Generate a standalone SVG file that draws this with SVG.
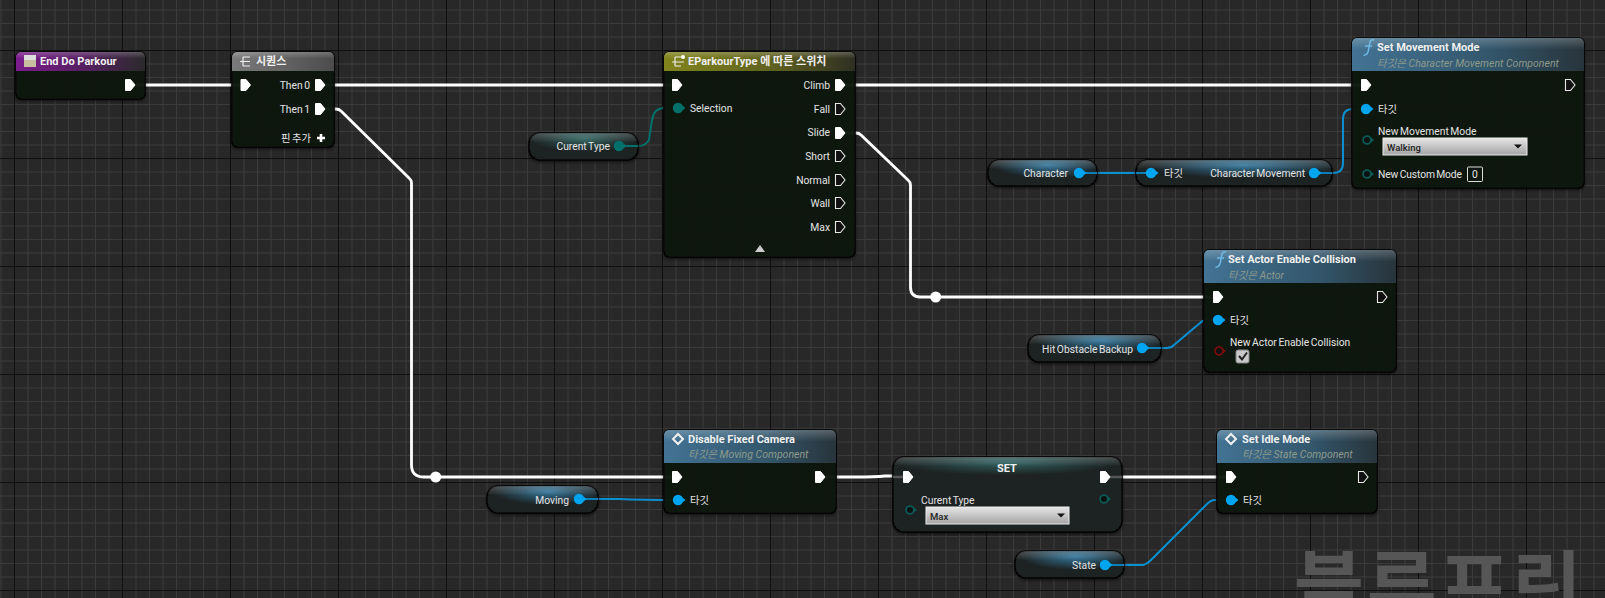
<svg xmlns="http://www.w3.org/2000/svg" width="1605" height="598" viewBox="0 0 1605 598">
<style>
text{font-family:Roboto,"Noto Sans CJK KR","Noto Sans",sans-serif;font-size:10.3px;word-spacing:-1px;fill:#e4e4e4;dominant-baseline:central}
.t{font-size:11px;font-weight:700;word-spacing:0;fill:#f0f0f0}
.s{font-size:10.5px;word-spacing:0;font-style:italic;fill:#8d9a8a}
.r{text-anchor:end}
.d{font-size:9.5px;fill:#222;font-weight:500}
.body{fill:#111311;fill-opacity:.93;stroke:#050505;stroke-width:1.5;filter:url(#sh)}
.pill{fill:#1d2121;fill-opacity:.95;stroke:#060606;stroke-width:1.5;filter:url(#sh)}
.gloss{fill:url(#gl)}
.exec{fill:none;stroke:#fff;stroke-width:2.8;stroke-linejoin:round}
.data{fill:none;stroke-width:2}
.ex{fill:#fff;stroke:#fff;stroke-width:1}
.eo{fill:#111;stroke:#e8e8e8;stroke-width:1.1}
.dd{fill:url(#dg);stroke:#eee;stroke-width:1}
.stub{stroke:#555;stroke-width:2.4}
.stb{stroke:#0a7fb8;stroke-width:2}
.wm{font-family:"Noto Sans CJK KR",sans-serif;font-size:76px;font-weight:700;word-spacing:0;fill:#565656;dominant-baseline:auto}
</style>
<defs>
<pattern id="grid" patternUnits="userSpaceOnUse" x="14" y="50" width="108" height="108">
<rect width="108" height="108" fill="#282828"/>
<path d="M14 0V108M27.5 0V108M41 0V108M54.5 0V108M68 0V108M81.5 0V108M95 0V108M0 14H108M0 27.5H108M0 41H108M0 54.5H108M0 68H108M0 81.5H108M0 95H108" stroke="#3b3b3b" fill="none"/>
<path d="M.5 0V108M0 .5H108" stroke="#0f0f0f" fill="none"/>
</pattern>
<filter id="sh" x="-10%" y="-10%" width="120%" height="125%"><feDropShadow dx="0" dy="1.5" stdDeviation="1.5" flood-color="#000" flood-opacity=".6"/></filter>
<linearGradient id="gl" x1="0" y1="0" x2="0" y2="1"><stop offset="0" stop-color="#fff" stop-opacity=".22"/><stop offset=".35" stop-color="#fff" stop-opacity="0"/></linearGradient>
<linearGradient id="hP"><stop offset="0" stop-color="#7b1c8c"/><stop offset=".55" stop-color="#54205f"/><stop offset="1" stop-color="#2b2a2c"/></linearGradient>
<linearGradient id="hG"><stop offset="0" stop-color="#7b7b7b"/><stop offset="1" stop-color="#4c4c4c"/></linearGradient>
<linearGradient id="hY"><stop offset="0" stop-color="#82841c"/><stop offset=".6" stop-color="#5d5f20"/><stop offset="1" stop-color="#2e2f22"/></linearGradient>
<linearGradient id="hB"><stop offset="0" stop-color="#437394"/><stop offset=".6" stop-color="#33566b"/><stop offset="1" stop-color="#28343b"/></linearGradient>
<linearGradient id="dg" x1="0" y1="0" x2="0" y2="1"><stop offset="0" stop-color="#e6e6e6"/><stop offset="1" stop-color="#a4a4a4"/></linearGradient>
<radialGradient id="pB" cx=".55" cy=".2" r=".5"><stop offset="0" stop-color="#3c93c4" stop-opacity=".75"/><stop offset="1" stop-color="#3c93c4" stop-opacity="0"/></radialGradient>
<radialGradient id="pT" cx=".5" cy=".2" r=".5"><stop offset="0" stop-color="#3f8f8a" stop-opacity=".6"/><stop offset="1" stop-color="#3f8f8a" stop-opacity="0"/></radialGradient>
<path id="ph" d="M-4.500-5.500H.5L5 0 .5 5.500H-4.500Z"/>
<g id="pb"><path d="M4.500 -2.500L7.500 0 4.500 2.500Z" fill="#00a5f0"/><circle r="5.200" fill="#00a5f0"/></g>
<g id="pt"><path d="M4.500 -2.500L7.500 0 4.500 2.500Z" fill="#00706a"/><circle r="5.200" fill="#00706a"/></g>
<g id="ot"><path d="M4 -2.500L7 0 4 2.500Z" fill="#0b5a55"/><circle r="3.900" fill="#0d1110" stroke="#0b5a55" stroke-width="1.800"/></g>
<g id="or"><path d="M4 -2.500L7 0 4 2.500Z" fill="#7a0c0c"/><circle r="3.900" fill="#0d1110" stroke="#7a0c0c" stroke-width="1.800"/></g>
<path id="fn" d="M8-8C4-9 3.500-4.500 3-1 2.500 3 2 7-2.500 7.500M-1-2H6" fill="none" stroke="#6fb9e6" stroke-width="1.500"/>
<path id="dm" d="M0-5L5 0 0 5-5 0Z" fill="none" stroke="#f0f0f0" stroke-width="2"/>
<path id="ar" d="M-4-2H4L0 2Z" fill="#111"/>
</defs>
<rect id="background" width="1605" height="598" fill="url(#grid)"/>
<text id="watermark" class="wm" x="1294" y="614" textLength="288">블루프린</text>

<g id="connectors">
<path class="exec" d="M127 85H245"/>
<path class="exec" d="M320 85H676"/>
<path class="exec" d="M320 109H336Q339 109 341 111L409 178Q411.500 180 411.500 183V465Q411.500 477 424 477H677"/>
<path class="exec" d="M840 85H1366"/>
<path class="exec" d="M840 133H856Q859 133 861 135L908 180Q910.500 182 910.500 185V287Q910.500 297 920 297H1218"/>
<path class="exec" d="M820 477H856Q875 477 885 476H908"/>
<path class="exec" d="M1105 477H1231"/>
<path class="data" stroke="#00706a" d="M619 146H639Q645 146 649 140L652 120Q654 108 664 108H678"/>
<path class="data" stroke="#0a8fd0" d="M1079 173H1151"/>
<path class="data" stroke="#0a8fd0" d="M1314 173H1333Q1343 173 1343 163V119Q1343 109 1353 109H1366"/>
<path class="data" stroke="#0a8fd0" d="M1142 348H1167Q1171 348 1174 345L1200 323Q1203 320 1207 320H1218"/>
<path class="data" stroke="#0a8fd0" d="M579 499H620Q640 500 678 500"/>
<path class="data" stroke="#0a8fd0" d="M1105 565H1143Q1147 564 1150 561L1207 504Q1211 500 1215 500H1231"/>
<circle cx="435.700" cy="477" r="5.500" fill="#fff"/>
<circle cx="935.700" cy="297" r="5.500" fill="#fff"/>
</g>

<g id="node-end-do-parkour">
<rect class="body" x="16" y="52" width="129" height="47" rx="5"/>
<path d="M16 71V57a5 5 0 0 1 5-5H140a5 5 0 0 1 5 5V71Z" fill="url(#hP)"/>
<path class="gloss" d="M16 71V57a5 5 0 0 1 5-5H140a5 5 0 0 1 5 5V71Z"/>
<rect x="24" y="55" width="12" height="5" fill="#ddd"/><rect x="24" y="60" width="12" height="7" fill="#c9bfa0"/>
<text class="t" x="40" y="61">End Do Parkour</text>
<use href="#ph" class="ex" x="130" y="85"/>
</g>

<g id="node-sequence">
<rect class="body" x="232" y="52" width="102" height="95" rx="5"/>
<path d="M232 71V57a5 5 0 0 1 5-5H329a5 5 0 0 1 5 5V71Z" fill="url(#hG)"/>
<path class="gloss" d="M232 71V57a5 5 0 0 1 5-5H329a5 5 0 0 1 5 5V71Z"/>
<path d="M240 61.500H250M243 57V66M243 57H250M243 66H250" stroke="#eee" stroke-width="1.200" fill="none"/>
<text class="t" x="256" y="61">시퀀스</text>
<use href="#ph" class="ex" x="245.500" y="85"/>
<text class="r" x="310" y="85">Then 0</text><use href="#ph" class="ex" x="320" y="85"/>
<text class="r" x="310" y="109">Then 1</text><use href="#ph" class="ex" x="320" y="109"/>
<text class="r" x="311" y="138">핀 추가</text>
<path d="M317 138H325M321 134V142" stroke="#fff" stroke-width="2.600"/>
</g>

<g id="node-switch">
<rect class="body" x="664" y="52" width="191" height="205" rx="5"/>
<path d="M664 71V57a5 5 0 0 1 5-5H850a5 5 0 0 1 5 5V71Z" fill="url(#hY)"/>
<path class="gloss" d="M664 71V57a5 5 0 0 1 5-5H850a5 5 0 0 1 5 5V71Z"/>
<path d="M672 62H684M675 57V66M675 57H681M675 66H681" stroke="#eee" stroke-width="1.200" fill="none"/><circle cx="683" cy="57" r="2" fill="#fff"/>
<text class="t" x="688" y="61">EParkourType 에 따른 스위치</text>
<use href="#ph" class="ex" x="677" y="85"/>
<use href="#pt" x="678" y="108"/>
<text x="690" y="108">Selection</text>
<text class="r" x="830" y="85">Climb</text><use href="#ph" class="ex" x="840" y="85"/>
<text class="r" x="830" y="109">Fall</text><use href="#ph" class="eo" x="840" y="109"/>
<text class="r" x="830" y="132">Slide</text><use href="#ph" class="ex" x="840" y="133"/>
<text class="r" x="830" y="156">Short</text><use href="#ph" class="eo" x="840" y="156"/>
<text class="r" x="830" y="180">Normal</text><use href="#ph" class="eo" x="840" y="180"/>
<text class="r" x="830" y="203">Wall</text><use href="#ph" class="eo" x="840" y="203"/>
<text class="r" x="830" y="227">Max</text><use href="#ph" class="eo" x="840" y="227"/>
<path d="M755 252L760 245 765 252Z" fill="#ccc"/>
</g>

<g id="node-curent-type">
<rect class="pill" x="529" y="133" width="109" height="27" rx="11"/>
<rect x="529" y="133" width="109" height="27" rx="11" fill="url(#pT)"/>
<rect class="gloss" x="529" y="133" width="109" height="27" rx="11"/>
<text class="r" x="610" y="146">Curent Type</text>
<line class="stb" style="stroke:#00706a" x1="619" y1="146" x2="638" y2="146"/>
<use href="#pt" x="619" y="146"/>
</g>

<g id="node-character">
<rect class="pill" x="988" y="160" width="109" height="26" rx="11"/>
<rect x="988" y="160" width="109" height="26" rx="11" fill="url(#pB)"/>
<rect class="gloss" x="988" y="160" width="109" height="26" rx="11"/>
<text class="r" x="1068" y="173">Character</text>
<line class="stb" x1="1079" y1="173" x2="1097" y2="173"/>
<use href="#pb" x="1079" y="173"/>
</g>

<g id="node-get-character-movement">
<rect class="pill" x="1136" y="160" width="196" height="26" rx="11"/>
<rect x="1136" y="160" width="196" height="26" rx="11" fill="url(#pB)"/>
<rect class="gloss" x="1136" y="160" width="196" height="26" rx="11"/>
<line class="stb" x1="1136" y1="173" x2="1151" y2="173"/>
<line class="stb" x1="1314" y1="173" x2="1332" y2="173"/>
<use href="#pb" x="1151" y="173"/>
<text x="1164" y="173">타깃</text>
<text class="r" x="1305" y="173">Character Movement</text>
<use href="#pb" x="1314" y="173"/>
</g>

<g id="node-set-movement-mode">
<rect class="body" x="1352" y="38" width="232" height="150" rx="5"/>
<path d="M1352 71V43a5 5 0 0 1 5-5H1579a5 5 0 0 1 5 5V71Z" fill="url(#hB)"/>
<path class="gloss" d="M1352 71V43a5 5 0 0 1 5-5H1579a5 5 0 0 1 5 5V71Z"/>
<use href="#fn" x="1366" y="48"/>
<text class="t" x="1377" y="47">Set Movement Mode</text>
<text class="s" x="1377" y="63">타깃은 Character Movement Component</text>
<use href="#ph" class="ex" x="1366" y="85"/>
<use href="#ph" class="eo" x="1570" y="85"/>
<use href="#pb" x="1366" y="109"/>
<text x="1378" y="109">타깃</text>
<use href="#ot" x="1367" y="140"/>
<text x="1378" y="131">New Movement Mode</text>
<rect class="dd" x="1383" y="138" width="144" height="17"/>
<text class="d" x="1387" y="147">Walking</text>
<use href="#ar" x="1518" y="146.500"/>
<use href="#ot" x="1367" y="174"/>
<text x="1378" y="174" textLength="84">New Custom Mode</text>
<rect x="1467.500" y="167" width="15" height="14.500" rx="1" fill="none" stroke="#ddd"/>
<text x="1475" y="174" style="text-anchor:middle">0</text>
</g>

<g id="node-set-actor-enable-collision">
<rect class="body" x="1204" y="250" width="192" height="122" rx="5"/>
<path d="M1204 283V255a5 5 0 0 1 5-5H1391a5 5 0 0 1 5 5V283Z" fill="url(#hB)"/>
<path class="gloss" d="M1204 283V255a5 5 0 0 1 5-5H1391a5 5 0 0 1 5 5V283Z"/>
<use href="#fn" x="1218" y="260"/>
<text class="t" x="1228" y="259">Set Actor Enable Collision</text>
<text class="s" x="1228" y="275">타깃은 Actor</text>
<use href="#ph" class="ex" x="1218" y="297"/>
<use href="#ph" class="eo" x="1382" y="297"/>
<use href="#pb" x="1218" y="320"/>
<text x="1230" y="320">타깃</text>
<use href="#or" x="1219" y="351"/>
<text x="1230" y="342">New Actor Enable Collision</text>
<rect x="1236" y="350" width="13" height="13" rx="2" fill="#c8c8c8" stroke="#888"/>
<path d="M1239 356L1242 359.500 1247 352.500" fill="none" stroke="#222" stroke-width="2"/>
</g>

<g id="node-hit-obstacle-backup">
<rect class="pill" x="1028" y="335" width="133" height="27" rx="11"/>
<rect x="1028" y="335" width="133" height="27" rx="11" fill="url(#pB)"/>
<rect class="gloss" x="1028" y="335" width="133" height="27" rx="11"/>
<text class="r" x="1133" y="349">Hit Obstacle Backup</text>
<line class="stb" x1="1142" y1="348" x2="1161" y2="348"/>
<use href="#pb" x="1142" y="348"/>
</g>

<g id="node-disable-fixed-camera">
<rect class="body" x="664" y="430" width="172" height="83" rx="5"/>
<path d="M664 463V435a5 5 0 0 1 5-5H831a5 5 0 0 1 5 5V463Z" fill="url(#hB)"/>
<path class="gloss" d="M664 463V435a5 5 0 0 1 5-5H831a5 5 0 0 1 5 5V463Z"/>
<use href="#dm" x="678" y="439"/>
<text class="t" x="688" y="439">Disable Fixed Camera</text>
<text class="s" x="688" y="454">타깃은 Moving Component</text>
<use href="#ph" class="ex" x="677" y="477"/>
<use href="#ph" class="ex" x="820" y="477"/>
<use href="#pb" x="678" y="500"/>
<text x="690" y="500">타깃</text>
</g>

<g id="node-moving">
<rect class="pill" x="487" y="486" width="111" height="27" rx="11"/>
<rect x="487" y="486" width="111" height="27" rx="11" fill="url(#pB)"/>
<rect class="gloss" x="487" y="486" width="111" height="27" rx="11"/>
<text class="r" x="569" y="500">Moving</text>
<line class="stb" x1="579" y1="499" x2="598" y2="499"/>
<use href="#pb" x="579" y="499"/>
</g>

<g id="node-set-curent-type">
<rect class="pill" x="893" y="457" width="229" height="75" rx="11"/>
<rect x="893" y="457" width="229" height="26" rx="11" fill="url(#pT)"/>
<rect class="gloss" x="893" y="457" width="229" height="26" rx="11"/>
<text class="t" x="1007" y="468" style="text-anchor:middle">SET</text>
<line class="stub" x1="893" y1="477" x2="908" y2="477"/>
<line class="stub" x1="1105" y1="477" x2="1122" y2="477"/>
<use href="#ph" class="ex" x="908" y="477"/>
<use href="#ph" class="ex" x="1105" y="477"/>
<use href="#ot" x="910" y="510"/>
<use href="#ot" x="1104" y="499"/>
<text x="921" y="500">Curent Type</text>
<rect class="dd" x="926" y="507" width="143" height="17"/>
<text class="d" x="930" y="516">Max</text>
<use href="#ar" x="1061" y="515.500"/>
</g>

<g id="node-set-idle-mode">
<rect class="body" x="1217" y="430" width="160" height="83" rx="5"/>
<path d="M1217 463V435a5 5 0 0 1 5-5H1372a5 5 0 0 1 5 5V463Z" fill="url(#hB)"/>
<path class="gloss" d="M1217 463V435a5 5 0 0 1 5-5H1372a5 5 0 0 1 5 5V463Z"/>
<use href="#dm" x="1231" y="439"/>
<text class="t" x="1242" y="439">Set Idle Mode</text>
<text class="s" x="1242" y="454">타깃은 State Component</text>
<use href="#ph" class="ex" x="1231" y="477"/>
<use href="#ph" class="eo" x="1363" y="477"/>
<use href="#pb" x="1231" y="500"/>
<text x="1243" y="500">타깃</text>
</g>

<g id="node-state">
<rect class="pill" x="1015" y="551" width="109" height="27" rx="11"/>
<rect x="1015" y="551" width="109" height="27" rx="11" fill="url(#pB)"/>
<rect class="gloss" x="1015" y="551" width="109" height="27" rx="11"/>
<text class="r" x="1096" y="565">State</text>
<line class="stb" x1="1105" y1="565" x2="1124" y2="565"/>
<use href="#pb" x="1105" y="565"/>
</g>
</svg>
